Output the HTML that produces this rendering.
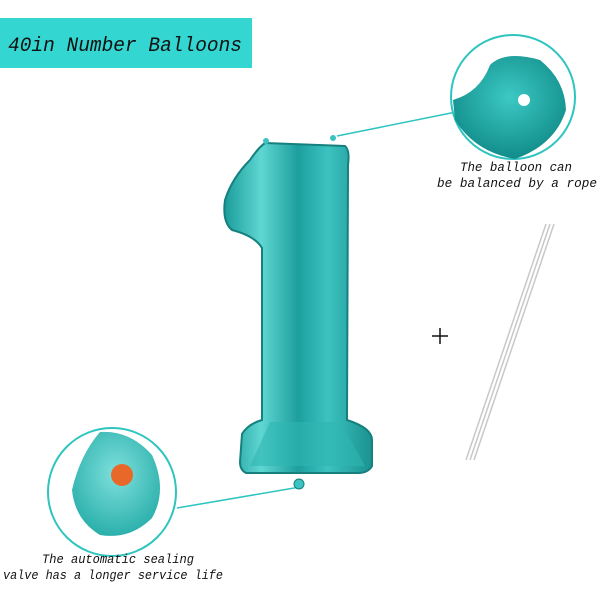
<!DOCTYPE html>
<html><head><style>
html,body{margin:0;padding:0;background:#fff;width:600px;height:600px;overflow:hidden}
svg{display:block}
text{font-family:"Liberation Mono",monospace;font-style:italic}
</style></head><body>
<svg width="600" height="600" viewBox="0 0 600 600">
<defs>
<linearGradient id="g" x1="0" x2="1" y1="0" y2="0">
<stop offset="0" stop-color="#1a9c9a"/>
<stop offset="0.25" stop-color="#5fd6d2"/>
<stop offset="0.5" stop-color="#1d9f9e"/>
<stop offset="0.7" stop-color="#3cc2c0"/>
<stop offset="1" stop-color="#1a9290"/>
</linearGradient>
<radialGradient id="c1" cx="0.5" cy="0.4" r="0.6">
<stop offset="0" stop-color="#3cc9c4"/><stop offset="1" stop-color="#118c8a"/>
</radialGradient>
<radialGradient id="c2" cx="0.5" cy="0.4" r="0.6">
<stop offset="0" stop-color="#7fe0dc"/><stop offset="1" stop-color="#2cb0ac"/>
</radialGradient>
</defs>
<rect x="0" y="18" width="252" height="50" fill="#33d6d0"/>
<text x="8" y="51" font-size="20" fill="#111" textLength="234" lengthAdjust="spacingAndGlyphs">40in Number Balloons</text>

<line x1="337" y1="136" x2="456" y2="112" stroke="#2ec4c0" stroke-width="1.5"/>
<line x1="177" y1="508" x2="300" y2="487" stroke="#2ec4c0" stroke-width="1.5"/>

<path d="M265,143 L345,146 Q350,150 348,165 L347,420 Q372,428 372,440 L372,466 Q368,473 358,473 L246,473 Q240,470 240,462 L242,434 Q248,424 262,420 L262,248 Q255,236 232,230 Q222,222 225,200 Q232,178 250,160 Q258,148 265,143 Z" fill="url(#g)" stroke="#15807e" stroke-width="2"/>
<path d="M270,422 L340,422 L365,466 L250,466 Z" fill="#2fb6b2" opacity="0.6"/>
<circle cx="299" cy="484" r="5" fill="#3cc2c0" stroke="#15807e"/>
<circle cx="266" cy="141" r="3" fill="#3cc2c0"/>
<circle cx="333" cy="138" r="3" fill="#3cc2c0"/>

<circle cx="513" cy="97" r="62" fill="#fff" stroke="#2ec4c0" stroke-width="2"/>
<path d="M453,100 Q480,92 490,65 Q505,50 540,60 Q565,80 566,110 Q555,145 515,159 Q475,152 455,120 Z" fill="url(#c1)"/>
<circle cx="524" cy="100" r="6" fill="#fff"/>
<text x="460" y="171" font-size="13" fill="#111" textLength="112" lengthAdjust="spacingAndGlyphs">The balloon can</text>
<text x="437" y="187" font-size="13" fill="#111" textLength="160" lengthAdjust="spacingAndGlyphs">be balanced by a rope</text>

<circle cx="112" cy="492" r="64" fill="#fff" stroke="#2ec4c0" stroke-width="2"/>
<path d="M100,432 Q130,430 152,455 Q168,490 152,518 Q130,540 100,535 Q75,520 72,490 Q80,455 100,432 Z" fill="url(#c2)"/>
<circle cx="122" cy="475" r="11" fill="#e8682a"/>
<text x="42" y="563" font-size="13" fill="#111" textLength="152" lengthAdjust="spacingAndGlyphs">The automatic sealing</text>
<text x="3" y="579" font-size="13" fill="#111" textLength="220" lengthAdjust="spacingAndGlyphs">valve has a longer service life</text>

<g stroke="#111" stroke-width="1.5"><line x1="432" y1="336" x2="448" y2="336"/><line x1="440" y1="328" x2="440" y2="344"/></g>
<g stroke="#c8c8c8" stroke-width="1.5">
<line x1="546" y1="224" x2="466" y2="460"/>
<line x1="550" y1="224" x2="470" y2="460"/>
<line x1="554" y1="224" x2="474" y2="460"/>
</g>
</svg>
</body></html>
